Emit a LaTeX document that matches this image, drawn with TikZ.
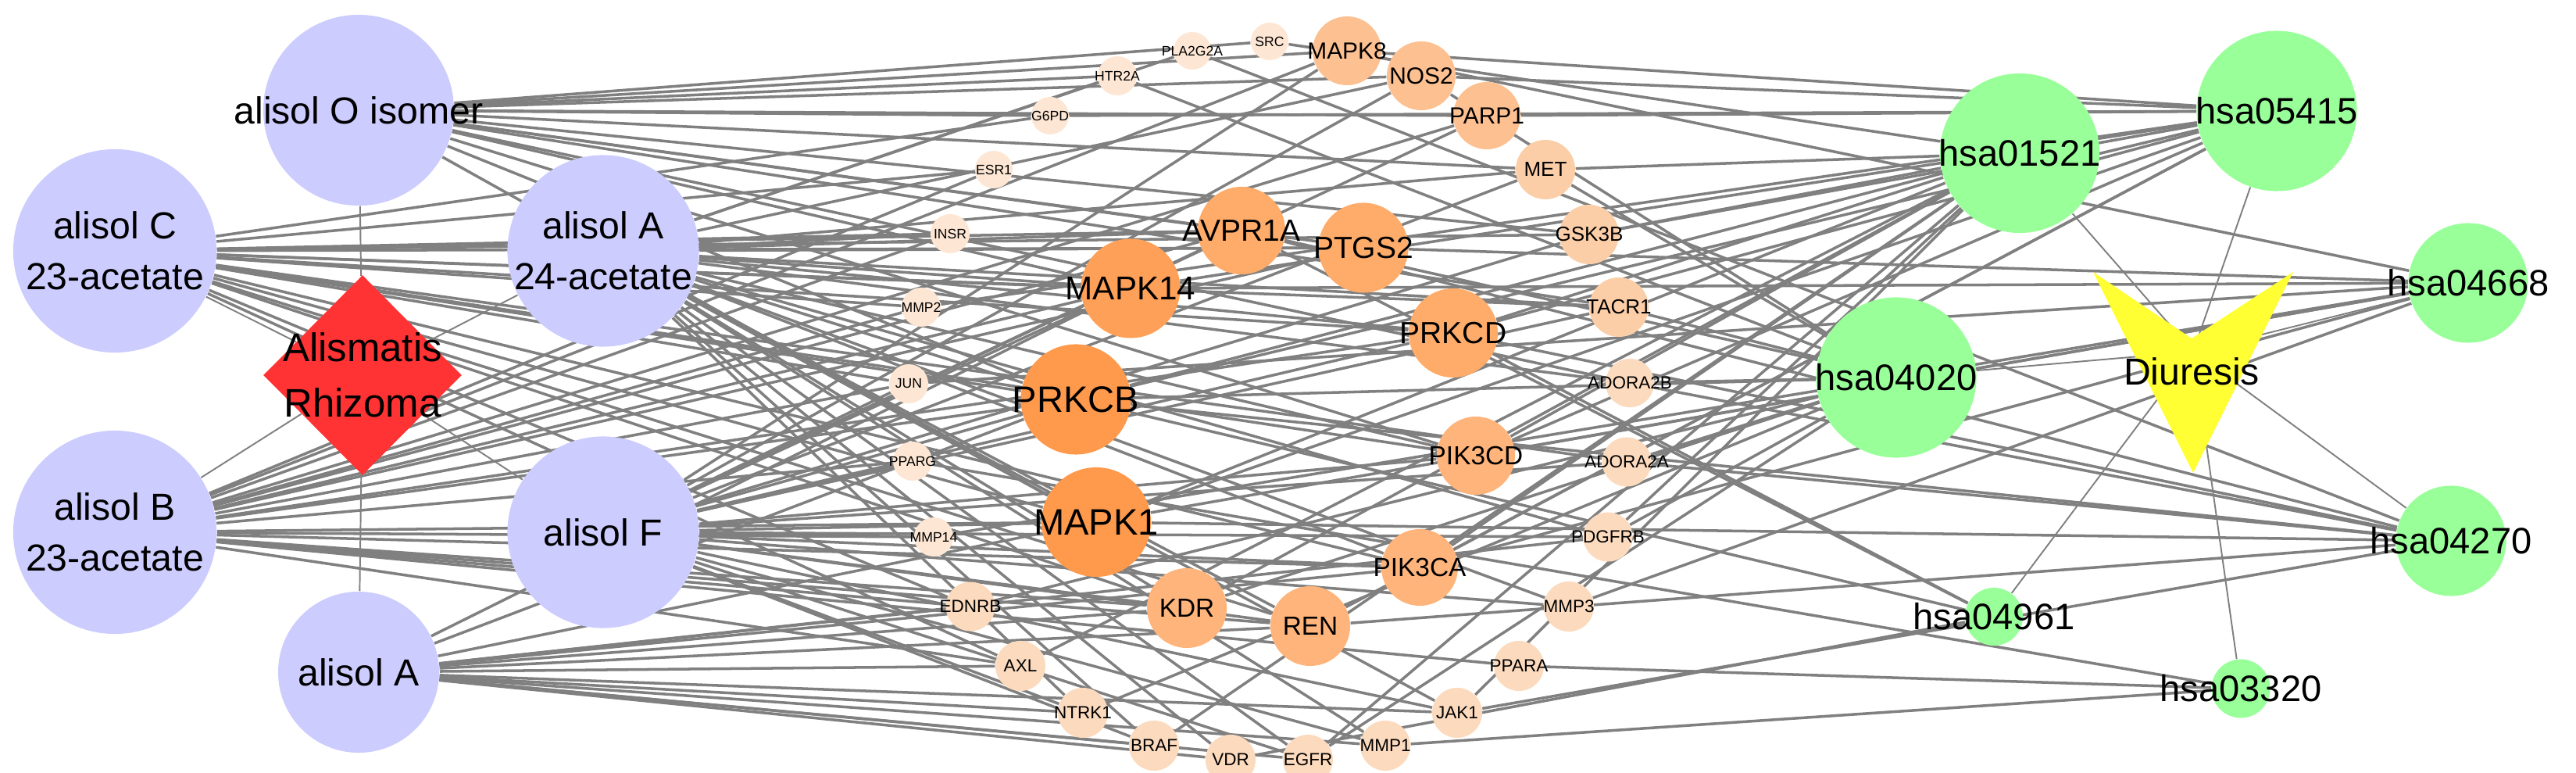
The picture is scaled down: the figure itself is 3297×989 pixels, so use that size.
\documentclass[tikz,border=0pt]{standalone}
\usepackage{fontspec}
\setmainfont{Liberation Sans}
\usetikzlibrary{shapes.geometric}
\definecolor{comp}{RGB}{204,204,255}
\definecolor{herb}{RGB}{255,51,51}
\definecolor{pathc}{RGB}{153,255,153}
\definecolor{diur}{RGB}{255,255,51}
\definecolor{edgec}{RGB}{128,128,128}
\definecolor{oa}{RGB}{255,154,77}
\definecolor{ob}{RGB}{255,160,88}
\definecolor{oc}{RGB}{255,171,106}
\definecolor{od}{RGB}{255,180,124}
\definecolor{oe}{RGB}{253,192,145}
\definecolor{of}{RGB}{252,206,168}
\definecolor{og}{RGB}{251,218,190}
\definecolor{oh}{RGB}{253,231,212}
\pgfdeclarelayer{bg}
\pgfsetlayers{bg,main}
% name, x, y, diameter, font size, colour, label
\newcommand\mkn[7]{%
  \node[bub,fill=#6,minimum size=#4] (#1) at (#2,#3) {};
  \node[txt,font=\fontsize{#5}{#5}\selectfont] (#1-l) at (#2,#3) {#7};}
\begin{document}
\begin{tikzpicture}[x=0.01cm,y=-0.01cm,
  bub/.style={circle,inner sep=0pt,draw=none},
  txt/.style={inner sep=0pt,align=center,text=black},
  edge/.style={draw=edgec,line width=1pt},
  thinedge/.style={draw=edgec,line width=0.55pt},
  bigfont/.style={font=\fontsize{13.7pt}{18.5pt}\selectfont}]
\useasboundingbox (0,0) rectangle (3297,989);

% ---- compounds ----
\node[bub,fill=comp,minimum size=2.44cm] (C1) at (459,141) {};
\node[txt,bigfont] (C1-l) at (459,141) {alisol O isomer};
\node[bub,fill=comp,minimum size=2.60cm] (C2) at (147,321) {};
\node[txt,bigfont] (C2-l) at (147,321) {alisol C\\23-acetate};
\node[bub,fill=comp,minimum size=2.45cm] (C3) at (772,321) {};
\node[txt,bigfont] (C3-l) at (772,321) {alisol A\\24-acetate};
\node[bub,fill=comp,minimum size=2.60cm] (C4) at (147,681) {};
\node[txt,bigfont] (C4-l) at (147,681) {alisol B\\23-acetate};
\node[bub,fill=comp,minimum size=2.45cm] (C5) at (772,681) {};
\node[txt,bigfont] (C5-l) at (772,681) {alisol F};
\node[bub,fill=comp,minimum size=2.06cm] (C6) at (459,860) {};
\node[txt,bigfont] (C6-l) at (459,860) {alisol A};

% ---- herb ----
\node[diamond,fill=herb,draw=none,inner sep=0pt,minimum width=2.54cm,minimum height=2.56cm] (D) at (464,480) {};
\node[txt,font=\fontsize{14.5pt}{20.2pt}\selectfont] (D-l) at (464,480) {Alismatis\\Rhizoma};

% ---- targets ----
\mkn{PLA2G2A}{1526}{65}{0.48cm}{5pt}{oh}{PLA2G2A}
\mkn{SRC}{1625}{53}{0.48cm}{5pt}{oh}{SRC}
\mkn{MAPK8}{1724}{65}{0.88cm}{8.5pt}{oe}{MAPK8}
\mkn{NOS2}{1819}{97}{0.88cm}{8.5pt}{oe}{NOS2}
\mkn{HTR2A}{1430}{97}{0.50cm}{5pt}{oh}{HTR2A}
\mkn{G6PD}{1344}{148}{0.48cm}{5pt}{oh}{G6PD}
\mkn{PARP1}{1903}{148}{0.86cm}{8.5pt}{oe}{PARP1}
\mkn{ESR1}{1272}{217}{0.48cm}{5pt}{oh}{ESR1}
\mkn{MET}{1978}{217}{0.76cm}{7.4pt}{of}{MET}
\mkn{INSR}{1216}{299}{0.50cm}{5pt}{oh}{INSR}
\mkn{AVPR1A}{1589}{295}{1.12cm}{11.1pt}{oc}{AVPR1A}
\mkn{PTGS2}{1745}{317}{1.15cm}{11.1pt}{oc}{PTGS2}
\mkn{GSK3B}{2034}{300}{0.76cm}{7.4pt}{of}{GSK3B}
\mkn{MAPK14}{1447}{369}{1.27cm}{12pt}{ob}{MAPK14}
\mkn{MMP2}{1179}{393}{0.50cm}{5pt}{oh}{MMP2}
\mkn{TACR1}{2072}{393}{0.76cm}{7.4pt}{of}{TACR1}
\mkn{PRKCD}{1860}{426}{1.14cm}{11.1pt}{oc}{PRKCD}
\mkn{JUN}{1163}{491}{0.50cm}{5pt}{oh}{JUN}
\mkn{ADORA2B}{2086}{490}{0.62cm}{6.4pt}{og}{ADORA2B}
\mkn{PRKCB}{1377}{511}{1.41cm}{13.4pt}{oa}{PRKCB}
\mkn{PPARG}{1168}{590}{0.50cm}{5pt}{oh}{PPARG}
\mkn{PIK3CD}{1889}{583}{1.00cm}{9.5pt}{od}{PIK3CD}
\mkn{ADORA2A}{2082}{591}{0.63cm}{6.4pt}{og}{ADORA2A}
\mkn{MAPK1}{1403}{668}{1.40cm}{13.4pt}{oa}{MAPK1}
\mkn{MMP14}{1195}{687}{0.50cm}{5pt}{oh}{MMP14}
\mkn{PDGFRB}{2058}{687}{0.63cm}{6.4pt}{og}{PDGFRB}
\mkn{PIK3CA}{1817}{726}{0.98cm}{9.5pt}{od}{PIK3CA}
\mkn{EDNRB}{1242}{776}{0.63cm}{6.4pt}{og}{EDNRB}
\mkn{KDR}{1519}{778}{1.02cm}{9.5pt}{od}{KDR}
\mkn{REN}{1677}{801}{1.02cm}{9.5pt}{od}{REN}
\mkn{MMP3}{2008}{776}{0.64cm}{6.4pt}{og}{MMP3}
\mkn{AXL}{1306}{852}{0.64cm}{6.4pt}{og}{AXL}
\mkn{PPARA}{1944}{852}{0.64cm}{6.4pt}{og}{PPARA}
\mkn{NTRK1}{1386}{912}{0.64cm}{6.4pt}{og}{NTRK1}
\mkn{JAK1}{1865}{912}{0.64cm}{6.4pt}{og}{JAK1}
\mkn{BRAF}{1477}{954}{0.64cm}{6.4pt}{og}{BRAF}
\mkn{MMP1}{1773}{954}{0.64cm}{6.4pt}{og}{MMP1}
\mkn{VDR}{1575}{972}{0.64cm}{6.4pt}{og}{VDR}
\mkn{EGFR}{1674}{972}{0.64cm}{6.4pt}{og}{EGFR}

% ---- pathways ----
\mkn{P01521}{2585}{196}{2.04cm}{13.4pt}{pathc}{hsa01521}
\mkn{P05415}{2914}{142}{2.05cm}{13.4pt}{pathc}{hsa05415}
\mkn{P04668}{3159}{362}{1.53cm}{13.4pt}{pathc}{hsa04668}
\mkn{P04020}{2427}{483}{2.05cm}{13.4pt}{pathc}{hsa04020}
\mkn{P04270}{3137}{692}{1.41cm}{13.4pt}{pathc}{hsa04270}
\mkn{P04961}{2552}{789}{0.74cm}{13.4pt}{pathc}{hsa04961}
\mkn{P03320}{2868}{881}{0.75cm}{13.4pt}{pathc}{hsa03320}

% ---- disease ----
\coordinate (V) at (2807,450);
\fill[diur] (2679,348) -- (2805,433) -- (2935,348) -- (2807,605) -- cycle;
\node[txt,bigfont] (V-l) at (2805,475) {Diuresis};

% ---- edges ----
\begin{pgfonlayer}{bg}
\foreach \c in {C1,C2,C3,C4,C5,C6} \draw[thinedge] (D) -- (\c);
\foreach \p in {P01521,P05415,P04668,P04020,P04270,P04961,P03320} \draw[thinedge] (V) -- (\p);
\foreach \t in {HTR2A,G6PD,SRC,MAPK8,NOS2,PARP1,MET,GSK3B,TACR1,PTGS2,AVPR1A,PRKCB,MAPK14,ADORA2B,PIK3CD,MAPK1}
  \draw[edge] (C1) -- (\t);
\foreach \t in {INSR,ESR1,G6PD,AVPR1A,PTGS2,GSK3B,MAPK14,PRKCB,MAPK1,PRKCD,TACR1,PIK3CD,PIK3CA,KDR,REN,MMP2,JUN,EDNRB,AXL,ADORA2A}
  \draw[edge] (C2) -- (\t);
\foreach \t in {INSR,AVPR1A,PTGS2,MET,HTR2A,PLA2G2A,NOS2,MAPK14,PRKCB,MAPK1,PRKCD,PIK3CD,PIK3CA,KDR,REN,ADORA2B,TACR1,PDGFRB,MMP3,JAK1,MMP1,NTRK1,BRAF,VDR,EGFR}
  \draw[edge] (C3) -- (\t);
\foreach \t in {MAPK8,PARP1,ESR1,MAPK14,PRKCB,MAPK1,MMP14,PPARG,AVPR1A,PTGS2,PRKCD,PIK3CA,KDR,REN,EDNRB,AXL,PPARA,JUN,MMP2,INSR}
  \draw[edge] (C4) -- (\t);
\foreach \t in {NOS2,MAPK8,PARP1,MET,AVPR1A,MAPK14,PRKCB,MAPK1,PRKCD,PIK3CD,PIK3CA,KDR,REN,MMP14,PPARG,JUN,ADORA2A,PDGFRB,MMP3,JAK1,NTRK1,BRAF,EGFR,MMP1,GSK3B,TACR1}
  \draw[edge] (C5) -- (\t);
\foreach \t in {MAPK14,PRKCB,MAPK1,KDR,REN,PIK3CA,EDNRB,AXL,NTRK1,BRAF,VDR,MMP1,JAK1,PDGFRB,EGFR}
  \draw[edge] (C6) -- (\t);
\foreach \t in {MAPK1,PRKCB,PRKCD,PIK3CA,PIK3CD,KDR,MET,EGFR,BRAF,GSK3B,JAK1,AXL,PDGFRB,SRC}
  \draw[edge] (\t) -- (P01521);
\foreach \t in {MAPK1,MAPK14,MAPK8,PRKCB,PRKCD,PIK3CA,PIK3CD,NOS2,PARP1,REN,MMP2,G6PD,GSK3B}
  \draw[edge] (\t) -- (P05415);
\foreach \t in {MAPK1,MAPK14,MAPK8,PIK3CA,PIK3CD,PTGS2,JUN,MMP3,MMP14}
  \draw[edge] (\t) -- (P04668);
\foreach \t in {AVPR1A,PRKCB,HTR2A,TACR1,ADORA2A,ADORA2B,EDNRB,NOS2,PDGFRB,EGFR,MET,KDR,NTRK1}
  \draw[edge] (\t) -- (P04020);
\foreach \t in {AVPR1A,PRKCB,PRKCD,MAPK1,PLA2G2A,ADORA2A,ADORA2B,REN,JAK1}
  \draw[edge] (\t) -- (P04270);
\foreach \t in {PRKCB,VDR,PRKCD,AVPR1A}
  \draw[edge] (\t) -- (P04961);
\foreach \t in {PPARA,PPARG,MMP1}
  \draw[edge] (\t) -- (P03320);
\end{pgfonlayer}
\end{tikzpicture}
\end{document}
